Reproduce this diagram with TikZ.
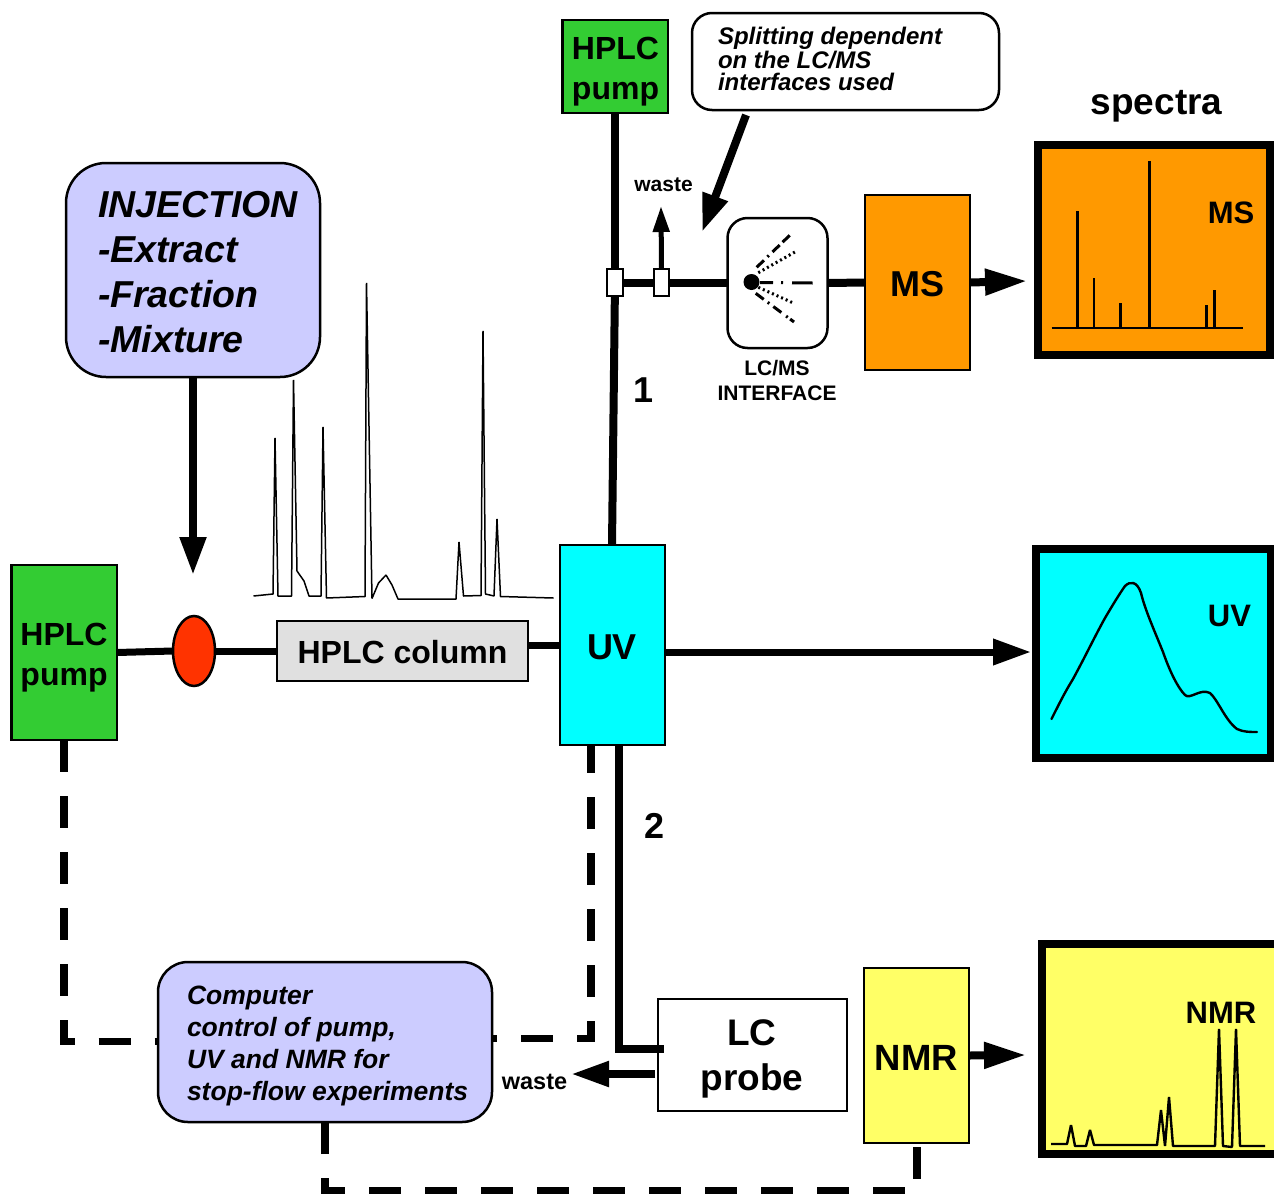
\documentclass[tikz,border=0pt]{standalone}
\usepackage{fontspec}
\setmainfont{Liberation Sans}
\usetikzlibrary{arrows.meta,calc,shapes.geometric}
\definecolor{greenbox}{RGB}{51,204,51}
\definecolor{lilac}{RGB}{204,204,255}
\definecolor{orangebox}{RGB}{255,153,0}
\definecolor{yellowbox}{RGB}{255,255,102}
\definecolor{redinj}{RGB}{255,51,0}
\definecolor{greybox}{RGB}{224,224,224}
\definecolor{cyanbox}{RGB}{0,255,255}
\newcommand{\fs}[2]{\fontsize{#1}{#2}\selectfont\bfseries}
\tikzset{
 x=1pt,y=-1pt,
 boxed/.style={draw=black,line width=2.5pt,inner sep=0pt,outer sep=0pt,align=center},
 pipe/.style={line width=8pt,draw=black},
 thinpipe/.style={line width=7pt,draw=black},
 dashpipe/.style={line width=7.5pt,draw=black,dash pattern=on 32pt off 24pt},
 bigtip/.style={-{Triangle[length=38pt,width=25pt]}},
 lefttext/.style={inner sep=0pt,outer sep=0pt,align=left,anchor=base west},
 clabel/.style={inner sep=0pt,outer sep=0pt,align=center,anchor=base},
 spray/.style={line width=2.5pt,draw=black},
}
\begin{document}
\begin{tikzpicture}
\useasboundingbox (0,0) rectangle (1274,1194);
% spectra frames
\node[fill=orangebox,draw=black,line width=8pt,minimum width=232pt,minimum height=210.5pt,inner sep=0pt,outer sep=0pt,anchor=north west] (msspec) at (1038,144.5) {};
\node[fill=cyanbox,draw=black,line width=8pt,minimum width=235pt,minimum height=209pt,inner sep=0pt,outer sep=0pt,anchor=north west] (uvspec) at (1035.5,548.5) {};
\node[fill=yellowbox,minimum width=232.5pt,minimum height=210pt,inner sep=0pt,outer sep=0pt,anchor=north west] (nmrspec) at (1041.5,944) {};
\draw[line width=8pt,black] (1274,944) -- (1041.5,944) -- (1041.5,1154) -- (1274,1154);
% free ends
\coordinate (uvup) at (612,545);
\coordinate (msend) at (1027,281);
\coordinate (uvend) at (1031,652);
\coordinate (nmrend) at (1026,1055);
\coordinate (inend) at (193,575);
\coordinate (wasteup) at (661,206);
\coordinate (wasteleft) at (571,1074);
\coordinate (calltip) at (702,232);
\coordinate (callstart) at (746,115);
\coordinate (probein) at (664,1048.5);
\coordinate (uvout) at (618.5,745);
\coordinate (uvdash) at (591,745);
\coordinate (bendA) at (591,1038.7);
\coordinate (bendB) at (64,1041.5);
\coordinate (bendC) at (917,1190.5);
\coordinate (bendD) at (325,1190.5);
\coordinate (colout) at (528,645);
% boxes
\node[boxed,fill=greenbox,minimum width=105.5pt,minimum height=175pt] (pumpL) at (64,652.5) {};
\node[boxed,fill=greenbox,minimum width=105.5pt,minimum height=93pt] (pumpT) at (615,66.5) {};
\node[boxed,fill=redinj,shape=ellipse,minimum width=42pt,minimum height=70pt] (inj) at (194,651) {};
\node[boxed,fill=greybox,minimum width=251pt,minimum height=60pt] (col) at (402.5,651) {};
\node[boxed,fill=cyanbox,minimum width=105pt,minimum height=200pt] (uv) at (612.5,645) {};
\node[boxed,fill=orangebox,minimum width=105pt,minimum height=175pt] (ms) at (917.5,282.5) {};
\node[boxed,fill=yellowbox,minimum width=105pt,minimum height=175pt] (nmr) at (916.5,1055.5) {};
\node[boxed,fill=white,minimum width=189pt,minimum height=112pt] (probe) at (752.5,1055) {};
\node[boxed,fill=white,rounded corners=20pt,minimum width=100pt,minimum height=130pt] (iface) at (777.5,283) {};
\node[boxed,fill=white,rounded corners=20pt,minimum width=307pt,minimum height=97pt] (call) at (845.5,61.5) {};
\node[boxed,fill=lilac,rounded corners=40pt,minimum width=254pt,minimum height=214pt] (injbox) at (193,270) {};
\node[boxed,fill=lilac,rounded corners=30pt,minimum width=334pt,minimum height=160pt] (comp) at (325,1042) {};
% solid connectors
\draw[pipe] (pumpT.south) -- (615,282);
\draw[pipe] (615,282) -- (uvup);
\draw[pipe] (615,282.5) -- (iface.west |- 0,282.5);
\draw[pipe] (iface.east) -- (ms.west);
\draw[thinpipe] (pumpL.east) -- (inj.west);
\draw[thinpipe] (inj.east) -- (col.west);
\draw[thinpipe] (colout) -- (uv.west);
\draw[thinpipe,bigtip] (uv.east |- uvend) -- (uvend);
\draw[pipe,-{Triangle[length=42pt,width=25pt]}] (ms.east) -- (msend);
\draw[pipe,-{Triangle[length=42pt,width=25pt]}] (nmr.east) -- (nmrend);
\draw[pipe,bigtip] (injbox.south) -- (inend);
\draw[line width=8pt,bigtip] (callstart) -- (calltip);
\draw[line width=5pt,-{Triangle[length=26pt,width=16pt]}] (661.5,270) -- (wasteup);
\draw[pipe,shorten <=3pt,-{Triangle[length=38pt,width=24pt]}] (probe.west |- wasteleft) -- (wasteleft);
\draw[pipe] (uvout) -- (618.5,1048.5) -- (probein);
\node[boxed,fill=white,minimum width=16pt,minimum height=27pt] (v1) at (615,282.5) {};
\node[boxed,fill=white,minimum width=15pt,minimum height=27pt] (v2) at (661.5,282.5) {};
% dashed connectors
\draw[dashpipe,dash phase=4pt] (uvdash) -- (bendA) -- (comp.east |- bendA);
\draw[dashpipe] (pumpL.south) -- (bendB) -- (comp.west |- bendB);
\draw[dashpipe,shorten <=4pt] (917,1143) -- (bendC) -- (bendD) -- (comp.south);
% interface spray
\fill (751.5,282) coordinate (dot) circle (8pt);
\draw[spray,line width=3pt,dash pattern=on 13pt off 8pt on 2pt off 9pt on 21pt] (760,282.5) -- (812.7,283);
\draw[spray,line width=3pt,dash pattern=on 10pt off 5pt on 2pt off 5pt on 10pt off 4pt] (756.7,267.3) -- (790,235);
\draw[spray,line width=3pt,dash pattern=on 2pt off 3pt] (758.3,272.7) -- (796.7,251);
\draw[spray,line width=3pt,dash pattern=on 2pt off 3pt] (758.3,287.3) -- (794,303.3);
\draw[spray,line width=3pt,dash pattern=on 10pt off 5pt on 2pt off 5pt on 10pt off 6pt on 2pt off 3pt] (755.7,293.3) -- (794,322);
% chromatogram
\draw[line width=1.5pt,line join=bevel] (253.5,596) -- (273,594) -- (275,438) -- (278,596) -- (291.5,596) -- (293.5,380) -- (297,571) -- (304,581) -- (309,596) -- (321,596) -- (323,427) -- (326.5,598) -- (365,596.5) -- (366.5,283) -- (372,598.5) -- (378.5,583) -- (386,575) -- (392,585) -- (398,599) -- (456,599) -- (459,542) -- (463.5,596) -- (481,595.5) -- (483,331) -- (485.5,594) -- (494,596) -- (497,519) -- (500.5,596.5) -- (553.5,598);
% MS spectrum
\draw[line width=2pt] (1051.5,328) -- (1243,328);
\foreach \x/\t in {1077.5/211,1094/278,1120.5/303,1149.5/161,1206.5/305,1214.5/290}
  \draw[line width=2.4pt] (\x,328) -- (\x,\t);
% UV trace
\draw[line width=2.4pt,line cap=round] (1051.5,719) .. controls (1060,702) and (1065,692) .. (1073,679) .. controls (1085,657) and (1095,636) .. (1105,618) .. controls (1112,606) and (1120,593) .. (1125,586) .. controls (1130,581) and (1137,581) .. (1141,593) .. controls (1145,610) and (1155,632) .. (1163,652) .. controls (1170,672) and (1178,688) .. (1185,695) .. controls (1190,700) and (1200,688) .. (1210,693) .. controls (1218,700) and (1225,720) .. (1237,729) .. controls (1243,732) and (1250,732) .. (1257,732);
% NMR trace
\draw[line width=2.4pt,line join=bevel] (1051,1144) -- (1067,1144) -- (1071,1125) -- (1075,1146) -- (1086,1146) -- (1090,1130) -- (1094,1145) -- (1157,1145) -- (1161,1110) -- (1165,1146) -- (1169,1097) -- (1173,1146) -- (1215,1146) -- (1219,1029) -- (1223,1146) -- (1232,1147) -- (1236,1029) -- (1240,1146) -- (1265,1146);
% texts
\node[clabel,font=\fs{32}{40}] (tpumpT) at (615.5,99) {HPLC\\pump};
\node[clabel,font=\fs{32}{40}] (tpumpL) at (64,685) {HPLC\\pump};
\node[clabel,font=\fs{32}{40}] (tcol) at (402.5,663) {HPLC column};
\node[clabel,font=\fs{36}{40}] (tuv) at (612,659) {UV};
\node[clabel,font=\fs{36}{40}] (tms) at (917.5,296) {MS};
\node[clabel,font=\fs{36.5}{40}] (tnmr) at (916.5,1070) {NMR};
\node[clabel,font=\fs{37}{45}] (tprobe) at (752,1090) {LC\\probe};
\node[clabel,font=\fs{37}{40}] (tspec) at (1156.5,114) {spectra};
\node[clabel,font=\fs{31}{40}] (lms) at (1231,223) {MS};
\node[clabel,font=\fs{31}{40}] (luv) at (1229.5,626) {UV};
\node[clabel,font=\fs{31}{40}] (lnmr) at (1221,1023) {NMR};
\node[clabel,font=\fs{21}{25}] (tw1) at (663.5,191) {waste};
\node[clabel,font=\fs{23.5}{25}] (tw2) at (534.5,1089) {waste};
\node[clabel,font=\fs{21}{25}] (tif) at (777,400) {LC/MS\\INTERFACE};
\node[clabel,font=\fs{36}{40}] (n1) at (644,402) {1};
\node[clabel,font=\fs{36}{40}] (n2) at (654.5,838) {2};
\node[lefttext,font=\fs{37.5}{45}\itshape] (tinj) at (98,352) {INJECTION\\-Extract\\-Fraction\\-Mixture};
\node[lefttext,font=\fs{24}{22}\itshape] (tcall) at (718,90) {Splitting dependent\\on the LC/MS\\interfaces used};
\node[lefttext,font=\fs{26.5}{32}\itshape] (tcomp) at (187,1100) {Computer\\control of pump,\\UV and NMR for\\stop-flow experiments};
\end{tikzpicture}
\end{document}
